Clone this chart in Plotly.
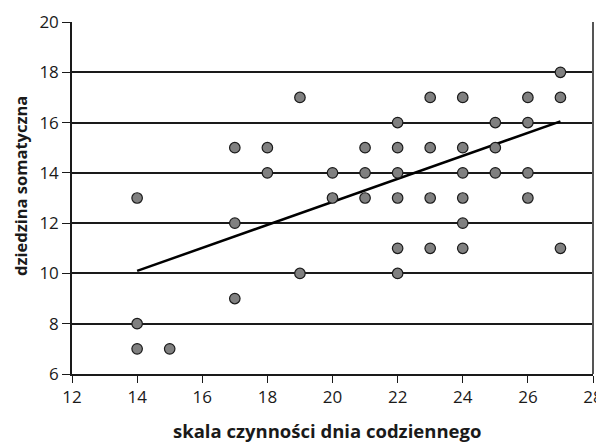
import plotly.graph_objects as go

# data
x_vals = [14, 14, 14, 15, 17, 17, 17, 18, 18, 19, 19, 20, 20, 21, 21, 21,
          22, 22, 22, 22, 22, 22, 23, 23, 23, 23, 24, 24, 24, 24, 24, 24,
          25, 25, 25, 26, 26, 26, 26, 27, 27, 27]
y_vals = [13, 8, 7, 7, 15, 12, 9, 15, 14, 17, 10, 14, 13, 15, 14, 13,
          16, 15, 14, 13, 11, 10, 17, 15, 13, 11, 17, 15, 14, 13, 12, 11,
          16, 15, 14, 17, 16, 14, 13, 18, 17, 11]
trend_x = [14, 27]
trend_y = [10.1, 16.05]

x_ticks = [12, 14, 16, 18, 20, 22, 24, 26, 28]
y_ticks = [6, 8, 10, 12, 14, 16, 18, 20]

x_title = "skala czynności dnia codziennego"
y_title = "dziedzina somatyczna"

FONT = "Open Sans"
INK = "#1a1a1a"

fig = go.Figure()
fig.add_trace(go.Scatter(
    x=trend_x, y=trend_y, mode="lines",
    line=dict(color="black", width=2.5), showlegend=False, hoverinfo="skip"))
fig.add_trace(go.Scatter(
    x=x_vals, y=y_vals, mode="markers",
    marker=dict(size=10.5, color="#808080", line=dict(color=INK, width=1.2)),
    showlegend=False))

fig.update_layout(
    width=596, height=436,
    margin=dict(l=64, r=11, t=14, b=70, autoexpand=False),
    paper_bgcolor="white", plot_bgcolor="white",
    font=dict(family=FONT, color=INK, size=17),
    xaxis=dict(
        range=[12, 28], tickvals=x_ticks, ticktext=[str(v) for v in x_ticks],
        showgrid=False, zeroline=False,
        showline=True, linecolor=INK, linewidth=1.5,
        ticks="outside", ticklen=7, tickcolor=INK, tickwidth=1.2,
        tickfont=dict(size=17, family=FONT, color=INK),
    ),
    yaxis=dict(
        range=[6, 20], tickvals=y_ticks, ticktext=[str(v) for v in y_ticks],
        showgrid=True, gridcolor=INK, gridwidth=1.5, zeroline=False,
        showline=True, linecolor=INK, linewidth=1.5,
        ticks="outside", ticklen=8, tickcolor=INK, tickwidth=1.2,
        tickfont=dict(size=17, family=FONT, color=INK),
    ),
    shapes=[dict(type="line", xref="paper", yref="paper", x0=1, x1=1, y0=0, y1=1,
                 line=dict(color="#555555", width=2))],
    annotations=[
        dict(text="<b>" + x_title + "</b>", xref="paper", yref="paper",
             x=0.489, y=0, yshift=-56, xanchor="center", yanchor="middle",
             showarrow=False, font=dict(size=18.5, family=FONT, color=INK)),
        dict(text="<b>" + y_title + "</b>", xref="paper", yref="paper",
             x=0, xshift=-52, y=0.534, xanchor="center", yanchor="middle",
             textangle=-90, showarrow=False,
             font=dict(size=16.5, family=FONT, color=INK)),
    ],
)

fig.write_html("out.html")
